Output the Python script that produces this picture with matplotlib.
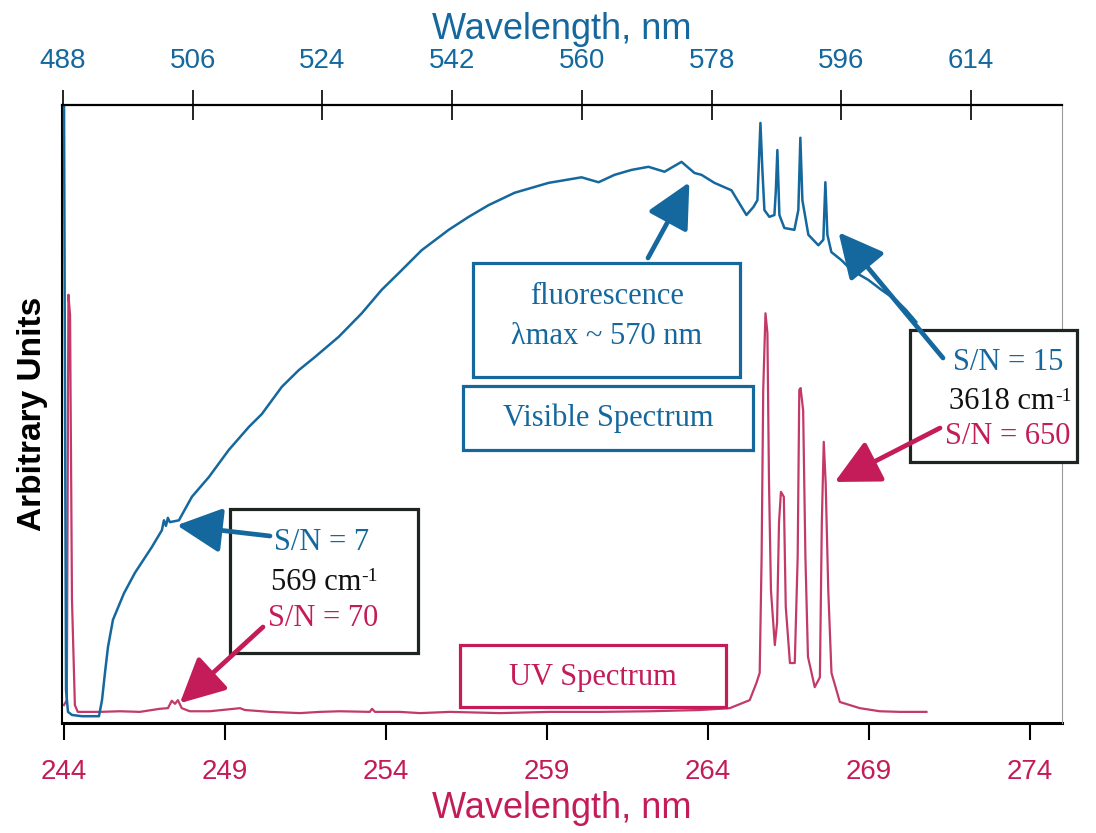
import matplotlib
matplotlib.use("Agg")
import matplotlib.pyplot as plt
from matplotlib.patches import Rectangle

plt.rcParams['font.family'] = ['Liberation Sans', 'DejaVu Sans']

BLUE = '#14689e'
RED = '#c41c58'
RED_LINE = '#c23a6a'

# UV spectrum (bottom axis, nm) and intensity (arbitrary units)
uv_nm = [244.00, 244.09, 244.14, 244.19, 244.25, 244.34, 244.43, 245.12, 245.74, 246.36,
         246.98, 247.23, 247.35, 247.45, 247.54, 247.66, 247.91, 248.53, 249.47, 249.62,
         250.40, 251.33, 251.95, 252.57, 253.50, 253.57, 253.66, 254.43, 255.06, 255.99,
         257.54, 259.09, 260.65, 262.20, 263.75, 264.68, 265.30, 265.51, 265.61, 265.67,
         265.72, 265.79, 265.85, 265.90, 265.96, 266.08, 266.15, 266.21, 266.27, 266.36,
         266.42, 266.55, 266.70, 266.79, 266.84, 266.88, 266.96, 267.03, 267.11, 267.32,
         267.48, 267.54, 267.60, 267.66, 267.74, 267.84, 268.10, 268.72, 269.34, 269.96,
         270.79]
uv_au = [2.9, 3.7, 69.3, 66.0, 19.9, 2.9, 1.8, 1.8, 1.9, 1.8,
         2.3, 2.4, 3.6, 3.1, 3.7, 2.4, 1.9, 1.9, 2.4, 2.1,
         1.8, 1.6, 1.8, 1.9, 1.8, 2.3, 1.8, 1.8, 1.6, 1.8,
         1.6, 1.8, 1.8, 1.9, 2.1, 2.4, 3.7, 6.5, 8.1, 26.9,
         53.9, 66.3, 63.1, 38.8, 21.5, 12.6, 16.2, 32.4, 37.4, 36.6,
         18.8, 9.7, 9.7, 26.9, 53.9, 54.2, 50.6, 26.9, 10.7, 5.8,
         7.4, 32.4, 45.5, 38.8, 21.5, 8.1, 3.4, 2.4, 1.9, 1.8,
         1.8]

# Visible spectrum (top axis, nm) and intensity (arbitrary units)
vis_nm = [488.14, 488.28, 488.42, 488.69, 489.25, 490.63, 492.99, 493.41, 493.82, 494.24,
          494.93, 496.46, 497.98, 500.34, 501.72, 502.00, 502.28, 502.55, 502.83, 504.08,
          505.88, 508.24, 511.01, 513.78, 515.59, 518.36, 520.71, 522.93, 526.26, 529.45,
          532.22, 534.58, 537.76, 541.51, 544.28, 547.05, 550.66, 555.37, 559.94, 562.30,
          564.52, 566.88, 569.23, 571.45, 573.81, 575.61, 576.58, 578.38, 580.74, 582.82,
          583.79, 584.34, 584.76, 585.03, 585.31, 586.00, 586.70, 586.90, 587.11, 587.39,
          588.08, 589.47, 590.02, 590.30, 590.58, 591.41, 592.80, 593.49, 593.77, 594.05,
          594.60, 595.99, 597.37, 599.73, 601.53, 603.61, 604.99, 606.38]
vis_au = [100.0, 52.3, 5.3, 1.8, 1.3, 1.1, 1.1, 3.7, 8.1, 12.3,
          16.7, 21.0, 24.3, 28.5, 31.2, 32.8, 31.9, 33.2, 32.5, 32.8,
          36.6, 39.8, 44.2, 47.9, 50.0, 54.4, 57.1, 59.2, 62.5, 66.3,
          70.1, 72.8, 76.5, 79.8, 81.9, 83.8, 85.8, 87.4, 88.3, 87.5,
          88.7, 89.5, 90.0, 89.2, 90.8, 89.0, 88.7, 87.4, 86.2, 82.2,
          83.5, 84.6, 97.1, 89.5, 83.0, 81.9, 82.2, 86.2, 92.7, 82.2,
          80.1, 79.8, 83.0, 94.7, 84.6, 79.0, 77.3, 78.2, 87.5, 79.0,
          76.2, 74.9, 73.3, 71.7, 70.1, 68.4, 66.8, 64.9]

uv_ticks = [244, 249, 254, 259, 264, 269, 274]
vis_ticks = [488, 506, 524, 542, 560, 578, 596, 614]

W, H = 1096, 833
fig = plt.figure(figsize=(W / 100, H / 100), dpi=100)
ax = fig.add_axes([62 / W, 1 - 723 / H, 1000 / W, 618 / H])
ax2 = ax.twiny()


def fpos(px, py):
    # pixel position -> figure fraction
    return (px / W, 1 - py / H)


ax.plot(uv_nm, uv_au, color=RED_LINE, lw=1.6)
ax2.plot(vis_nm, vis_au, color=BLUE, lw=1.8)

ax.set_xlim(243.94, 275.0)
ax2.set_xlim(487.86, 626.6)
ax.set_ylim(0, 100)
ax.set_yticks([])

ax.set_xticks(uv_ticks)
ax.tick_params(axis='x', direction='out', length=12, width=1.5, pad=14,
               labelsize=20, labelcolor=RED)
ax2.set_xticks(vis_ticks)
ax2.tick_params(axis='x', direction='inout', length=22, width=1.2, pad=11,
                labelsize=20, labelcolor=BLUE)

ax.set_xlabel('Wavelength, nm', fontsize=26, color=RED, labelpad=4)
ax2.set_xlabel('Wavelength, nm', fontsize=26, color=BLUE, labelpad=7)
ax.set_ylabel('Arbitrary Units', fontsize=24, fontweight='bold', labelpad=10)

for s in ['top', 'right']:
    ax.spines[s].set_visible(False)
for s in ['bottom', 'left']:
    ax2.spines[s].set_visible(False)
ax.spines['bottom'].set_linewidth(2.2)
ax.spines['left'].set_linewidth(1.5)
ax2.spines['top'].set_linewidth(1.6)
ax2.spines['right'].set_linewidth(0.8)
ax2.spines['right'].set_color('#9a9a9a')

# label boxes
boxes = [
    ((473, 263, 740, 377), BLUE),
    ((463, 386, 753, 450), BLUE),
    ((460, 645, 726, 707), RED),
    ((230, 509, 418, 653), '#1e2420'),
    ((910, 330, 1077, 462), '#1e2420'),
]
for (x0, y0, x1, y1), c in boxes:
    r = Rectangle(fpos(x0, y1), (x1 - x0) / W, (y1 - y0) / H, transform=fig.transFigure,
                  facecolor='white', edgecolor=c, lw=2.3, zorder=5, clip_on=False)
    ax2.add_patch(r)

texts = [
    (607, 297, 'fluorescence', BLUE, None),
    (607, 337, 'λmax ~ 570 nm', BLUE, None),
    (608, 418, 'Visible Spectrum', BLUE, None),
    (593, 677, 'UV Spectrum', RED, None),
    (322, 542, 'S/N = 7', BLUE, None),
    (316, 582, '569 cm', '#111111', '-1'),
    (323, 618, 'S/N = 70', RED, None),
    (1008, 363, 'S/N = 15', BLUE, None),
    (1002, 402, '3618 cm', '#111111', '-1'),
    (1008, 437, 'S/N = 650', RED, None),
]
for px, py, s, c, sup in texts:
    t = fig.text(*fpos(px, py), s, ha='center', va='center', color=c, fontsize=22,
                 family='Liberation Serif', zorder=7)
    if sup:
        # exponent sits at the upper right of the unit
        ax2.annotate(sup, xy=(1.0, 0.98), xycoords=t, ha='left', va='top',
                     color=c, fontsize=14, family='Liberation Serif',
                     annotation_clip=False, zorder=7)

arrow_style = '-|>,head_length=1.1,head_width=0.55'
arrows = [
    (ax2, (574.9, 87.5), (648, 258), BLUE),
    (ax2, (503.8, 32.0), (270, 536), BLUE),
    (ax, (247.6, 3.2), (263, 627), RED),
    (ax2, (595.6, 79.4), (943, 358), BLUE),
    (ax, (267.94, 39.0), (940, 428), RED),
]
for a, tip, tail, c in arrows:
    ax2.annotate('', xy=tip, xycoords=a.transData, xytext=fpos(*tail),
                 textcoords='figure fraction', annotation_clip=False, zorder=6,
                 arrowprops=dict(arrowstyle=arrow_style, color=c, lw=3.4,
                                 mutation_scale=25, shrinkA=0, shrinkB=0))

fig.savefig('out.png', dpi=100)
